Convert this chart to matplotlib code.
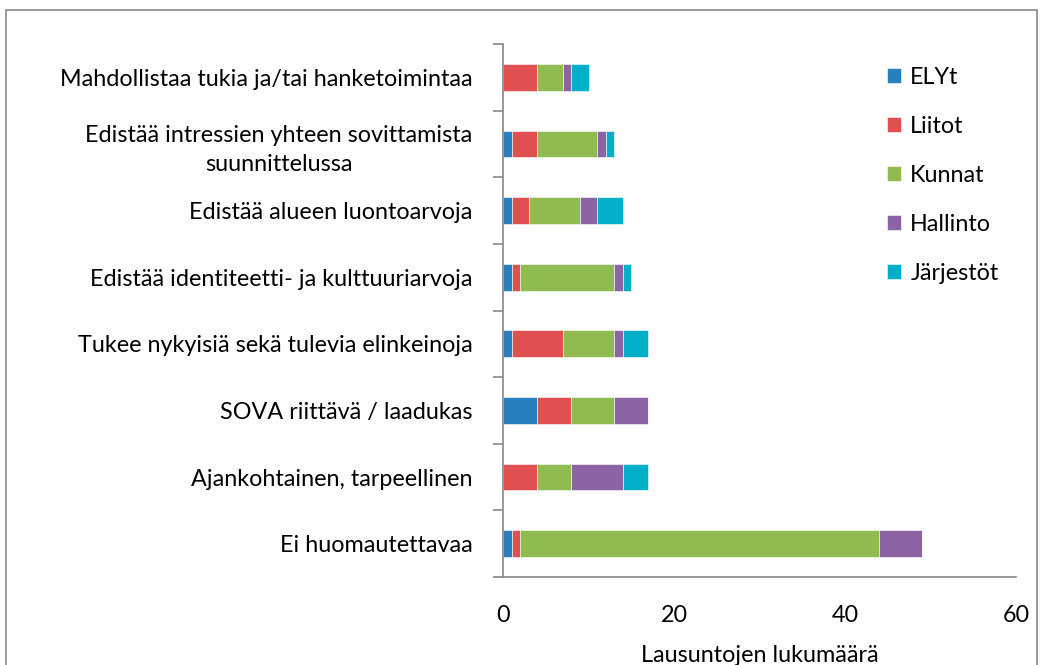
import matplotlib
matplotlib.use("Agg")
import matplotlib.pyplot as plt
from matplotlib.patches import Rectangle
import numpy as np

categories = [
    "Mahdollistaa tukia ja/tai hanketoimintaa",
    "Edistää intressien yhteen sovittamista\nsuunnittelussa",
    "Edistää alueen luontoarvoja",
    "Edistää identiteetti- ja kulttuuriarvoja",
    "Tukee nykyisiä sekä tulevia elinkeinoja",
    "SOVA riittävä / laadukas",
    "Ajankohtainen, tarpeellinen",
    "Ei huomautettavaa",
]
series_names = ["ELYt", "Liitot", "Kunnat", "Hallinto", "Järjestöt"]
elyt      = [0, 1, 1, 1, 1, 4, 0, 1]
liitot    = [4, 3, 2, 1, 6, 4, 4, 1]
kunnat    = [3, 7, 6, 11, 6, 5, 4, 42]
hallinto  = [1, 1, 2, 1, 1, 4, 6, 5]
jarjestot = [2, 1, 3, 1, 3, 0, 3, 0]
colors = ["#2a7fbf", "#e05050", "#8fbb50", "#8c64a6", "#00afc8"]
xticks = [0, 20, 40, 60]
xlabel = "Lausuntojen lukumäärä"

plt.rcParams['font.family'] = ['Lato', 'DejaVu Sans']
FS = 16.8

fig = plt.figure(figsize=(10.44, 6.65), dpi=100)
ax = fig.add_axes([503/1044, 88/665, (1016-503)/1044, (577-44)/665])

series = [elyt, liitot, kunnat, hallinto, jarjestot]
n = len(categories)
y = np.arange(n)[::-1]
left = np.zeros(n)
for name, vals, c in zip(series_names, series, colors):
    vals = np.array(vals, dtype=float)
    ax.barh(y, vals, left=left, height=0.4, color=c, label=name,
            edgecolor="white", linewidth=0.4)
    left += vals

ax.set_xlim(0, 60)
ax.set_ylim(-0.5, n - 0.5)
ax.set_xticks(xticks)
ax.set_xticklabels([str(t) for t in xticks], fontsize=FS)
ax.set_yticks(y)
ax.set_yticklabels(categories, fontsize=FS, multialignment='center', linespacing=1.45)
ax.tick_params(axis='y', length=0, pad=22)
ax.tick_params(axis='x', length=0, pad=20)
# category boundary ticks
ax.set_yticks(np.arange(n + 1) - 0.5, minor=True)
ax.tick_params(axis='y', which='minor', length=7, color='#888888', width=1.2, direction='out')
ax.set_xticks(xticks, minor=True)
ax.tick_params(axis='x', which='minor', length=7, color='#888888', width=1.2, direction='out')
for s in ['top', 'right']:
    ax.spines[s].set_visible(False)
for s in ['left', 'bottom']:
    ax.spines[s].set_color('#888888')
    ax.spines[s].set_linewidth(1.2)
ax.set_xlabel(xlabel, fontsize=FS, labelpad=14)

handles, labels = ax.get_legend_handles_labels()
leg = fig.legend(handles, labels, loc='upper left', bbox_to_anchor=(866/1044, 1 - 46/665),
                 frameon=False, fontsize=FS, handlelength=0.6, handleheight=0.6,
                 handletextpad=0.4, labelspacing=1.2)

fig.patches.append(Rectangle((6/1044, -0.05), (1037-6)/1044, 1.05 - 10/665, transform=fig.transFigure,
                             fill=False, edgecolor='#888888', linewidth=1.2))

fig.savefig("out.png", dpi=100)
